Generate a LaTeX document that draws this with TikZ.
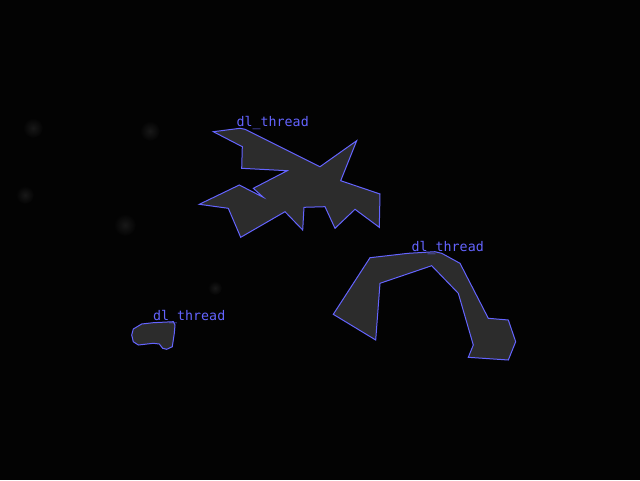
\documentclass[tikz,border=0pt]{standalone}
\usepackage{fontspec}
\newfontfamily\labelfont{DejaVu Sans Mono}
\definecolor{bg}{RGB}{3,3,3}
\definecolor{outline}{RGB}{100,100,255}
\definecolor{blob}{RGB}{44,44,44}
\definecolor{speck}{RGB}{24,24,24}
\tikzset{
  region/.style={draw=outline, line width=1pt, fill=blob, line join=miter},
  tag/.style={text=outline, font=\labelfont\fontsize{13.3}{14}\selectfont, anchor=base west, inner sep=0pt},
  speckle/.style={inner color=speck, outer color=bg}
}
\begin{document}
\begin{tikzpicture}[x=1pt,y=-1pt]
\fill[bg] (0,0) rectangle (640,480);
\useasboundingbox (0,0) rectangle (640,480);
% faint specks
\shade[speckle] (33,128) circle (10);
\shade[speckle] (150,131) circle (10);
\shade[speckle] (25,195) circle (9);
\shade[speckle] (125,225) circle (11);
\shade[speckle] (215,288) circle (7);
% region 1
\draw[region] (213.3,131.7) -- (240,128.3) -- (245,129.3) -- (320,166.7) -- (356.7,140.7) -- (340.7,180.7) -- (380,194) -- (379.3,227.3) -- (355,209.3) -- (335,228.3) -- (325,206.7) -- (304,207.3) -- (302.7,230) -- (285,211.7) -- (240.7,237.3) -- (228.3,208.3) -- (199.3,204.3) -- (239.3,185) -- (263.3,197.3) -- (253.3,188.3) -- (287.3,170.7) -- (241.7,168.3) -- (242.3,146.7) -- cycle;
% region 2
\draw[region] (370,257.7) -- (408.3,253.3) -- (435,251.7) -- (441.7,253.3) -- (460,263.3) -- (488.3,318.3) -- (508.3,320) -- (515.7,341.7) -- (508.3,360) -- (468.3,357.3) -- (473.3,345) -- (458.3,293.3) -- (431.7,265.7) -- (380,283.3) -- (375.7,340) -- (333.3,314.3) -- cycle;
% region 3
\draw[region] (141.7,324) -- (153.3,322.7) -- (173.3,321.7) -- (175,325) -- (174.3,333.3) -- (172.3,346.7) -- (166.7,349.3) -- (162.7,348.3) -- (159.3,344) -- (153.3,343.3) -- (138.3,345) -- (133.3,341.7) -- (131.7,335) -- (133.3,329) -- cycle;
% labels
\node[tag] (t1) at (236.5,126.5) {dl\_thread};
\node[tag] (t2) at (411.5,251.5) {dl\_thread};
\node[tag] (t3) at (153,320.5) {dl\_thread};
\end{tikzpicture}
\end{document}
